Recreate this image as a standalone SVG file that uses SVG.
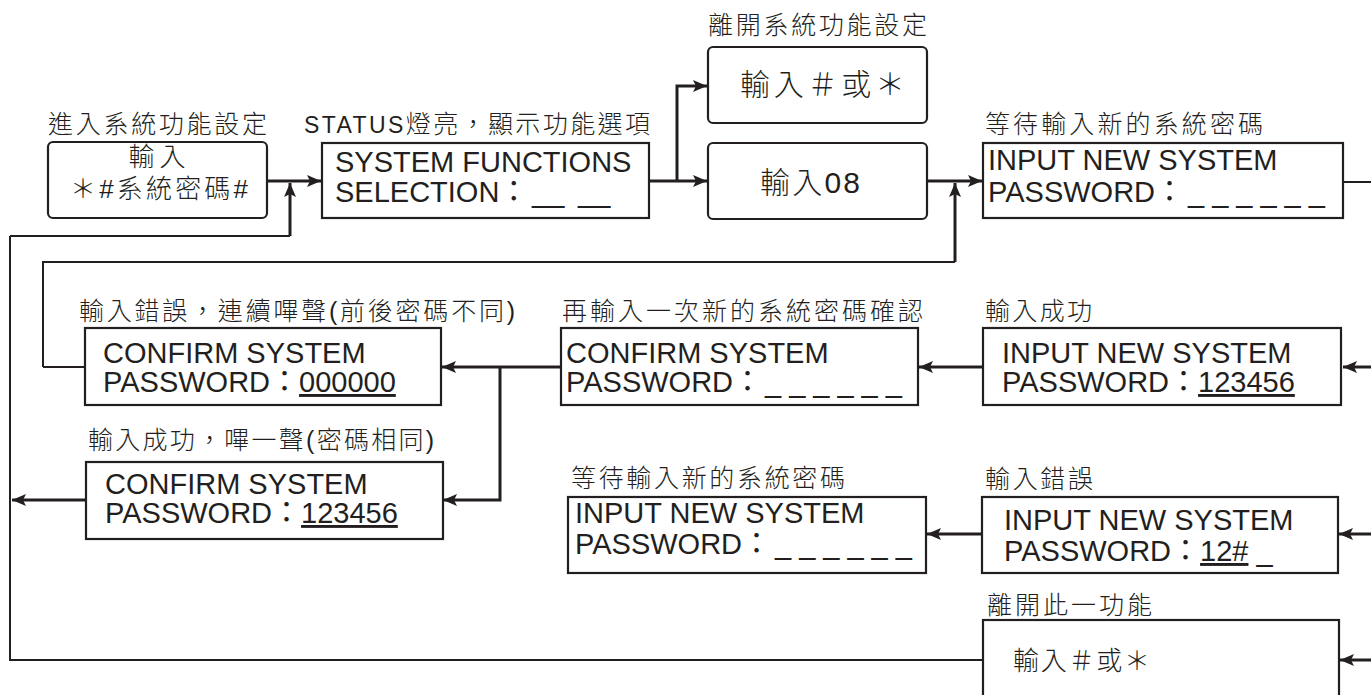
<svg xmlns="http://www.w3.org/2000/svg" width="1371" height="695" viewBox="0 0 1371 695">
<style>
  .box { fill: #ffffff; stroke: #231f20; stroke-width: 2.2; }
  .lbl { font-family: "Liberation Sans", "Noto Sans CJK TC", sans-serif; font-size: 25px; font-weight: 300; fill: #231f20; }
  .cjk { font-family: "Liberation Sans", "Noto Sans CJK TC", sans-serif; font-weight: 300; fill: #231f20; }
  .lcd { font-family: "Liberation Sans", "Noto Sans CJK TC", sans-serif; font-size: 29px; fill: #231f20; }
  .dash { letter-spacing: 8px; }
  .ul { text-decoration: underline; }
  .thick { fill: none; stroke: #231f20; stroke-width: 3; }
  .thin { fill: none; stroke: #231f20; stroke-width: 2; }
</style>
<defs>
  <marker id="ah" markerUnits="userSpaceOnUse" markerWidth="15" markerHeight="12" refX="14" refY="6" orient="auto">
    <path d="M0,0 L14,6 L0,12 L3,6 z" fill="#231f20"/>
  </marker>
</defs>
<rect width="1371" height="695" fill="#ffffff"/>

<g id="connectors">
  <path class="thick" d="M267,181 H321" marker-end="url(#ah)"/>
  <path class="thin" d="M10,236 H290"/>
  <path class="thick" d="M290,236 V183" marker-end="url(#ah)"/>
  <path class="thick" d="M649,181 H707" marker-end="url(#ah)"/>
  <path class="thick" d="M677,181 V86 H707" marker-end="url(#ah)"/>
  <path class="thick" d="M927,181 H982" marker-end="url(#ah)"/>
  <path class="thin" d="M43,367 V262 H955"/>
  <path class="thin" d="M43,367 H85"/>
  <path class="thick" d="M955,262 V183" marker-end="url(#ah)"/>
  <path class="thin" d="M1343,182 H1371"/>
  <path class="thick" d="M1371,367 H1343" marker-end="url(#ah)"/>
  <path class="thick" d="M983,367 H919" marker-end="url(#ah)"/>
  <path class="thick" d="M561,367 H442" marker-end="url(#ah)"/>
  <path class="thick" d="M500,367 V500 H443" marker-end="url(#ah)"/>
  <path class="thick" d="M86,500 H12" marker-end="url(#ah)"/>
  <path class="thick" d="M1371,534 H1339" marker-end="url(#ah)"/>
  <path class="thick" d="M982,534 H927" marker-end="url(#ah)"/>
  <path class="thin" d="M983,660 H10 V236"/>
  <path class="thick" d="M1371,660 H1340" marker-end="url(#ah)"/>
</g>

<g id="enter-setting">
  <text class="lbl" x="48" y="133" textLength="219" lengthAdjust="spacing">進入系統功能設定</text>
  <rect class="box" x="48" y="142" width="219" height="76" rx="5"/>
  <text class="cjk" x="157" y="166" font-size="26" text-anchor="middle" textLength="57" lengthAdjust="spacing">輸入</text>
  <text class="cjk" x="159" y="198" font-size="26" text-anchor="middle" textLength="178" lengthAdjust="spacing">＊#系統密碼#</text>
</g>

<g id="function-select">
  <text class="lbl" x="304" y="133" textLength="346" lengthAdjust="spacing"><tspan font-size="23">STATUS</tspan>燈亮，顯示功能選項</text>
  <rect class="box" x="322" y="143" width="327" height="75"/>
  <text class="lcd" x="335" y="172">SYSTEM FUNCTIONS</text>
  <text class="lcd" x="335" y="202">SELECTION：<tspan x="532">__</tspan><tspan x="578">__</tspan></text>
</g>

<g id="exit-setting">
  <text class="lbl" x="708" y="34" textLength="219" lengthAdjust="spacing">離開系統功能設定</text>
  <rect class="box" x="708" y="47" width="219" height="76" rx="5"/>
  <text class="cjk" x="740" y="95" font-size="30" textLength="165" lengthAdjust="spacing">輸入＃或＊</text>
</g>

<g id="input-08">
  <rect class="box" x="708" y="143" width="219" height="76" rx="5"/>
  <text class="cjk" x="760" y="193" font-size="30" textLength="100" lengthAdjust="spacing">輸入08</text>
</g>

<g id="wait-new-1">
  <text class="lbl" x="985" y="133" textLength="278" lengthAdjust="spacing">等待輸入新的系統密碼</text>
  <rect class="box" x="983" y="143" width="360" height="75"/>
  <text class="lcd" x="988" y="170">INPUT NEW SYSTEM</text>
  <text class="lcd" x="988" y="202">PASSWORD：<tspan class="dash" x="1188">______</tspan></text>
</g>

<g id="input-success">
  <text class="lbl" x="985" y="320" textLength="107" lengthAdjust="spacing">輸入成功</text>
  <rect class="box" x="983" y="328" width="358" height="77"/>
  <text class="lcd" x="1002" y="363">INPUT NEW SYSTEM</text>
  <text class="lcd" x="1002" y="392">PASSWORD：<tspan class="ul">123456</tspan></text>
</g>

<g id="confirm-new">
  <text class="lbl" x="562" y="320" textLength="361" lengthAdjust="spacing">再輸入一次新的系統密碼確認</text>
  <rect class="box" x="561" y="328" width="357" height="77"/>
  <text class="lcd" x="566" y="363">CONFIRM SYSTEM</text>
  <text class="lcd" x="566" y="392">PASSWORD：<tspan class="dash" x="765">______</tspan></text>
</g>

<g id="confirm-fail">
  <text class="lbl" x="79" y="320" textLength="436" lengthAdjust="spacing">輸入錯誤，連續嗶聲(前後密碼不同)</text>
  <rect class="box" x="85" y="328" width="356" height="77"/>
  <text class="lcd" x="103" y="363">CONFIRM SYSTEM</text>
  <text class="lcd" x="103" y="392">PASSWORD：<tspan class="ul">000000</tspan></text>
</g>

<g id="confirm-ok">
  <text class="lbl" x="88" y="449" textLength="346" lengthAdjust="spacing">輸入成功，嗶一聲(密碼相同)</text>
  <rect class="box" x="86" y="462" width="357" height="77"/>
  <text class="lcd" x="105" y="494">CONFIRM SYSTEM</text>
  <text class="lcd" x="105" y="523">PASSWORD：<tspan class="ul">123456</tspan></text>
</g>

<g id="wait-new-2">
  <text class="lbl" x="571" y="487" textLength="274" lengthAdjust="spacing">等待輸入新的系統密碼</text>
  <rect class="box" x="568" y="497" width="358" height="76"/>
  <text class="lcd" x="575" y="523">INPUT NEW SYSTEM</text>
  <text class="lcd" x="575" y="554">PASSWORD：<tspan class="dash" x="775">______</tspan></text>
</g>

<g id="input-error">
  <text class="lbl" x="985" y="488" textLength="108" lengthAdjust="spacing">輸入錯誤</text>
  <rect class="box" x="982" y="497" width="356" height="76"/>
  <text class="lcd" x="1004" y="530">INPUT NEW SYSTEM</text>
  <text class="lcd" x="1004" y="561">PASSWORD：<tspan class="ul">12#</tspan> _</text>
</g>

<g id="exit-function">
  <text class="lbl" x="987" y="614" textLength="165" lengthAdjust="spacing">離開此一功能</text>
  <rect class="box" x="983" y="620" width="356" height="100"/>
  <text class="cjk" x="1013" y="670" font-size="26" textLength="137" lengthAdjust="spacing">輸入＃或＊</text>
</g>
</svg>
